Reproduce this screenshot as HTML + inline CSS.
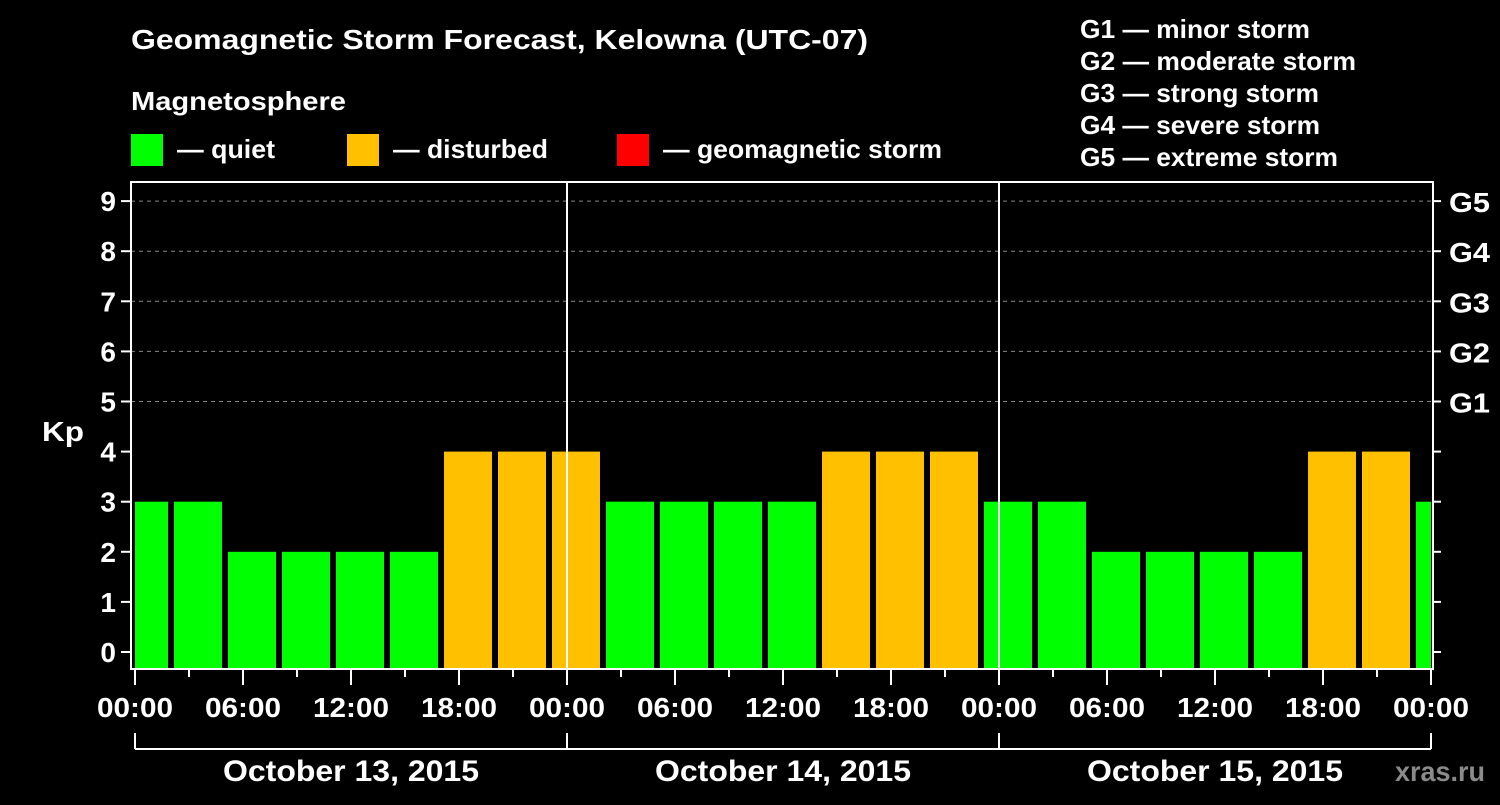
<!DOCTYPE html>
<html><head><meta charset="utf-8"><style>
body{margin:0;background:#000;}
svg text{font-family:"Liberation Sans",Arial,sans-serif;font-weight:bold;fill:#fff;}
</style></head><body>
<svg width="1500" height="800" viewBox="0 0 1500 800">
<text x="131" y="49" font-size="28" textLength="737" lengthAdjust="spacingAndGlyphs">Geomagnetic Storm Forecast, Kelowna (UTC-07)</text>
<text x="131" y="110" font-size="26" textLength="215" lengthAdjust="spacingAndGlyphs">Magnetosphere</text>
<rect x="131" y="134" width="32" height="32" fill="#00ff00"/>
<text x="177" y="158" font-size="26" textLength="98" lengthAdjust="spacingAndGlyphs">— quiet</text>
<rect x="347" y="134" width="32" height="32" fill="#ffc000"/>
<text x="393" y="158" font-size="26" textLength="155" lengthAdjust="spacingAndGlyphs">— disturbed</text>
<rect x="617" y="134" width="32" height="32" fill="#ff0000"/>
<text x="663" y="158" font-size="26" textLength="279" lengthAdjust="spacingAndGlyphs">— geomagnetic storm</text>
<g font-size="26">
<text x="1080" y="38" textLength="230" lengthAdjust="spacingAndGlyphs">G1 — minor storm</text>
<text x="1080" y="70" textLength="276" lengthAdjust="spacingAndGlyphs">G2 — moderate storm</text>
<text x="1080" y="102" textLength="239" lengthAdjust="spacingAndGlyphs">G3 — strong storm</text>
<text x="1080" y="134" textLength="240" lengthAdjust="spacingAndGlyphs">G4 — severe storm</text>
<text x="1080" y="166" textLength="258" lengthAdjust="spacingAndGlyphs">G5 — extreme storm</text>
</g>
<text x="42" y="441" font-size="28" textLength="42" lengthAdjust="spacingAndGlyphs">Kp</text>
<g id="plot"></g>
<text x="1395" y="781" font-size="28" textLength="90" lengthAdjust="spacingAndGlyphs" style="fill:#8a8a8a">xras.ru</text>
</svg>
<script>
const kpValues=[3,3,2,2,2,2,4,4,4,3,3,3,3,4,4,4,3,3,2,2,2,2,4,4,3];
const dayLabels=["October 13, 2015","October 14, 2015","October 15, 2015"];
const yTicks=[0,1,2,3,4,5,6,7,8,9];
const gLabels=["G1","G2","G3","G4","G5"];
const hourLabels=["00:00","06:00","12:00","18:00"];
const NS="http://www.w3.org/2000/svg";
const g=document.getElementById('plot');
const L=131,R=1433,T=182,B=669;
const x=h=>135+h*18;
const y=v=>652-v*50.1;
function el(t,a,txt){const e=document.createElementNS(NS,t);for(const k in a)e.setAttribute(k,a[k]);if(txt!==undefined)e.textContent=txt;g.appendChild(e);return e;}
for(let v=5;v<=9;v++){const l=el('line',{x1:L,x2:R,y1:y(v),y2:y(v),stroke:'#888','stroke-dasharray':'4,4','stroke-width':1});

}
const cp=el('clipPath',{id:'cp'});const cr=document.createElementNS(NS,'rect');cr.setAttribute('x',L+4);cr.setAttribute('y',T);cr.setAttribute('width',R-L-6);cr.setAttribute('height',B-T);cp.appendChild(cr);
kpValues.forEach((v,k)=>{const c=x(3*k+0.5);
const r=el('rect',{x:c-24,y:y(v),width:48,height:B-1-y(v),fill:v>=5?'#ff0000':(v>=4?'#ffc000':'#00ff00'),'clip-path':'url(#cp)'});

});
const fr=el('rect',{x:L,y:T,width:R-L,height:B-T,fill:'none',stroke:'#fff','stroke-width':2});


for(let d=1;d<3;d++){const l=el('line',{x1:x(24*d),x2:x(24*d),y1:T,y2:B,stroke:'#fff','stroke-width':2});

}
yTicks.forEach(v=>{el('line',{x1:L-10,x2:L,y1:y(v),y2:y(v),stroke:'#fff','stroke-width':2});
el('line',{x1:R,x2:R+8,y1:y(v),y2:y(v),stroke:'#fff','stroke-width':2});
const t=el('text',{x:L-15,y:y(v)+10,'font-size':28,'text-anchor':'end'},String(v));

});
gLabels.forEach((s,i)=>{const t=el('text',{x:1449,y:y(5+i)+11,'font-size':28,textLength:41,lengthAdjust:'spacingAndGlyphs'},s);

});
for(let h=0;h<=72;h+=3){const maj=h%6===0;el('line',{x1:x(h),x2:x(h),y1:B,y2:B+(maj?16:8),stroke:'#fff','stroke-width':2});}
for(let h=0;h<=72;h+=6){const t=el('text',{x:x(h)-38,y:717,'font-size':28,textLength:76,lengthAdjust:'spacingAndGlyphs'},hourLabels[(h/6)%4]);

}
el('line',{x1:x(0),x2:x(72),y1:749,y2:749,stroke:'#fff','stroke-width':2});
for(let d=0;d<=3;d++)el('line',{x1:x(24*d),x2:x(24*d),y1:733,y2:749,stroke:'#fff','stroke-width':2});
dayLabels.forEach((s,d)=>{const t=el('text',{x:x(24*d+12)-128,y:781,'font-size':30,textLength:256,lengthAdjust:'spacingAndGlyphs'},s);

});
</script>
</body></html>
